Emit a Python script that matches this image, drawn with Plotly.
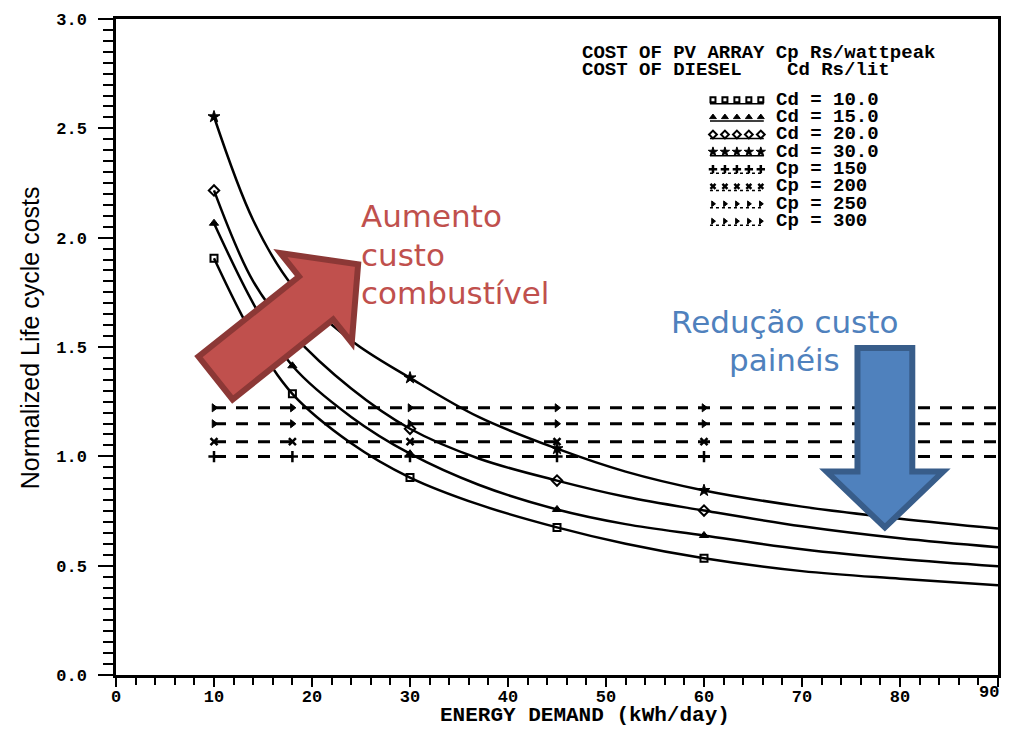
import plotly.graph_objects as go

# ---------------- data ----------------
CURVE_X = [10, 14, 18, 24, 30, 37, 45, 52, 60, 70, 80, 90]
MARKER_X = [10, 18, 30, 45, 60]

CD_LABELS = ["Cd = 10.0", "Cd = 15.0", "Cd = 20.0", "Cd = 30.0"]
CD_10 = [1.906, 1.55, 1.286, 1.06, 0.903, 0.78, 0.675, 0.60, 0.534, 0.475, 0.44, 0.41]
CD_15 = [2.066, 1.70, 1.414, 1.18, 1.012, 0.87, 0.757, 0.69, 0.638, 0.575, 0.53, 0.497]
CD_20 = [2.216, 1.80, 1.56, 1.31, 1.126, 0.99, 0.889, 0.815, 0.752, 0.68, 0.625, 0.584]
CD_30 = [2.553, 2.08, 1.78, 1.53, 1.359, 1.18, 1.035, 0.93, 0.844, 0.77, 0.715, 0.670]

CP_LABELS = ["Cp = 150", "Cp = 200", "Cp = 250", "Cp = 300"]
CP_VALUES = [0.999, 1.067, 1.149, 1.222]
DASH_X = [10, 18, 30, 45, 60, 90]

X_TICKS = [0, 10, 20, 30, 40, 50, 60, 70, 80, 90]
X_TICK_TEXT = ["0", "10", "20", "30", "40", "50", "60", "70", "80", "90"]
Y_TICKS = [0.0, 0.5, 1.0, 1.5, 2.0, 2.5, 3.0]

# ---------------- layout geometry (screen pixels) ----------------
OFF = 8                      # page body margin of the browser (each side)
W, H = 1012 - 2 * OFF, 734 - 2 * OFF
X0, X1, Y0, Y1 = 116, 1001, 17, 675     # plot area on screen
PW, PH = X1 - X0, Y1 - Y0


def px(x):
    return (x - X0) / PW


def py(y):
    return (Y1 - y) / PH


MONO = "Liberation Mono"
CURVE_STYLE = [
    dict(symbol="square-open", size=7, line=dict(width=2, color="black")),
    dict(symbol="triangle-up", size=8, line=dict(width=1, color="black")),
    dict(symbol="diamond-open", size=8, line=dict(width=2, color="black")),
    dict(symbol="star", size=9, line=dict(width=1, color="black")),
]
DASH_STYLE = [
    dict(symbol="cross-thin", size=8, line=dict(width=2.5, color="black")),
    dict(symbol="x-thin", size=7, line=dict(width=2.5, color="black")),
    dict(symbol="triangle-right", size=7, line=dict(width=1, color="black")),
    dict(symbol="triangle-right", size=7, line=dict(width=1, color="black")),
]

fig = go.Figure()

for name, ys, st in zip(CD_LABELS, [CD_10, CD_15, CD_20, CD_30], CURVE_STYLE):
    fig.add_trace(go.Scatter(
        x=CURVE_X, y=ys, mode="lines", name=name,
        line=dict(color="black", width=2.5, shape="spline", smoothing=1.0),
        showlegend=False, hoverinfo="skip"))
    mx = [x for x in CURVE_X if x in MARKER_X]
    my = [y for x, y in zip(CURVE_X, ys) if x in MARKER_X]
    fig.add_trace(go.Scatter(
        x=mx, y=my, mode="markers", name=name,
        marker=dict(color="black", **st), showlegend=False))

for name, v, st in zip(CP_LABELS, CP_VALUES, DASH_STYLE):
    fig.add_trace(go.Scatter(
        x=DASH_X, y=[v] * len(DASH_X), mode="lines", name=name,
        line=dict(color="black", width=3, dash="12px,10px"),
        showlegend=False, hoverinfo="skip"))
    fig.add_trace(go.Scatter(
        x=MARKER_X, y=[v] * len(MARKER_X), mode="markers", name=name,
        marker=dict(color="black", **st), showlegend=False))

# ---------------- legend drawn as glyph rows + text ----------------
row_y0, row_dy = 98, 17.4
glyph_x = [715, 727, 739, 751, 763]
all_labels = CD_LABELS + CP_LABELS
all_styles = CURVE_STYLE + DASH_STYLE
for i, (lab, st) in enumerate(zip(all_labels, all_styles)):
    yy = row_y0 + i * row_dy
    small = dict(st)
    small["size"] = max(5, st["size"] - 2)
    fig.add_trace(go.Scatter(
        x=[glyph_x[0] - 3, glyph_x[-1] + 3], y=[yy + 4, yy + 4], mode="lines",
        line=dict(color="black", width=1.5, dash="solid" if i < 4 else "3px,3px"),
        xaxis="x2", yaxis="y2", showlegend=False, hoverinfo="skip"))
    fig.add_trace(go.Scatter(
        x=glyph_x, y=[yy] * len(glyph_x), mode="markers",
        marker=dict(color="black", **small),
        xaxis="x2", yaxis="y2", showlegend=False, hoverinfo="skip"))

annotations = []


def ann(text, x, y, size, family, color="black", xanchor="left", yanchor="middle",
        weight="normal", angle=0):
    annotations.append(dict(
        text=text, x=px(x), y=py(y), xref="paper", yref="paper",
        xanchor=xanchor, yanchor=yanchor, showarrow=False, textangle=angle,
        font=dict(size=size, family=family, color=color, weight=weight)))


ann("COST OF PV ARRAY Cp Rs/wattpeak", 582, 51, 19, MONO, weight="bold")
ann("COST OF DIESEL", 582, 68, 19, MONO, weight="bold")
ann("Cd Rs/lit", 787, 68, 19, MONO, weight="bold")
for i, lab in enumerate(all_labels):
    ann(lab, 776, row_y0 + i * row_dy, 19, MONO, weight="bold")

RED_T = "#C0504D"
BLUE_T = "#4F81BD"
ann("Aumento", 360, 215, 31, "DejaVu Sans", RED_T)
ann("custo", 360, 253.5, 31, "DejaVu Sans", RED_T)
ann("combustível", 360, 292, 31, "DejaVu Sans", RED_T)
ann("Redução custo", 787, 321, 31, "DejaVu Sans", BLUE_T, xanchor="center")
ann("painéis", 787, 359, 31, "DejaVu Sans", BLUE_T, xanchor="center")

ann("Normalized Life cycle costs", 30, 337, 25, "Liberation Sans", angle=-90, xanchor="center")
ann("ENERGY DEMAND (kWh/day)", 587, 716, 21, MONO, weight="bold", xanchor="center")
# last x tick label sits at the page edge: right-anchored so it stays inside
ann(X_TICK_TEXT[-1], 1004, 693, 17, MONO, weight="bold", xanchor="right")
AXIS_TICK_TEXT = X_TICK_TEXT[:-1] + [""]


# ---------------- arrows (shapes) ----------------
def path(points):
    return "M " + " L ".join(f"{px(a):.5f},{py(b):.5f}" for a, b in points) + " Z"


# red block arrow, rotated
ux, uy = 0.782, -0.623
nx, ny = 0.623, 0.782
tx, ty = 213.5 + 3 * ux, 379 + 3 * uy
w, hh, ls, lt = 27.5, 57.5, 129, 183


def P(a, b):
    return (tx + a * ux + b * nx, ty + a * uy + b * ny)


red_pts = [P(0, -w), P(ls, -w), P(ls, -hh), P(lt, 0), P(ls, hh), P(ls, w), P(0, w)]
blue_pts = [(860, 347), (915, 347), (915, 471), (946, 471), (887.5, 527),
            (829, 471), (860, 471)]

shapes = [
    dict(type="path", path=path(red_pts), xref="paper", yref="paper",
         fillcolor="#C0504D", line=dict(color="#8C3836", width=6), layer="above"),
    dict(type="path", path=path(blue_pts), xref="paper", yref="paper",
         fillcolor="#4F81BD", line=dict(color="#385D8A", width=6), layer="above"),
]

tickfont = dict(family=MONO, size=17, color="black", weight="bold")
fig.update_layout(
    width=W, height=H,
    margin=dict(l=X0 - OFF, r=W - (X1 - OFF), t=Y0 - OFF, b=H - (Y1 - OFF)),
    paper_bgcolor="white", plot_bgcolor="white",
    showlegend=False,
    xaxis=dict(range=[0, 90], tickvals=X_TICKS, ticktext=AXIS_TICK_TEXT,
               ticks="outside", ticklen=9,
               tickwidth=2, tickcolor="black", showline=True, linewidth=2.5,
               linecolor="black", mirror=True, showgrid=False, zeroline=False,
               tickfont=tickfont, ticklabelstandoff=-5,
               minor=dict(dtick=2, ticks="outside", ticklen=7, tickwidth=2,
                          tickcolor="black", showgrid=False)),
    yaxis=dict(range=[0, 3], tickvals=Y_TICKS, tickformat=".1f", ticks="outside",
               ticklen=15, tickwidth=2, tickcolor="black", showline=True,
               linewidth=2.5, linecolor="black", mirror=True, showgrid=False,
               zeroline=False, tickfont=tickfont, ticklabelstandoff=8,
               minor=dict(dtick=0.05, ticks="outside", ticklen=10, tickwidth=2,
                          tickcolor="black", showgrid=False)),
    xaxis2=dict(domain=[0, 1], anchor="y2", overlaying="x", range=[X0, X1],
                visible=False, fixedrange=True),
    yaxis2=dict(domain=[0, 1], anchor="x2", overlaying="y", range=[Y1, Y0],
                visible=False, fixedrange=True),
    annotations=annotations,
    shapes=shapes,
)

fig.write_html("out.html")
